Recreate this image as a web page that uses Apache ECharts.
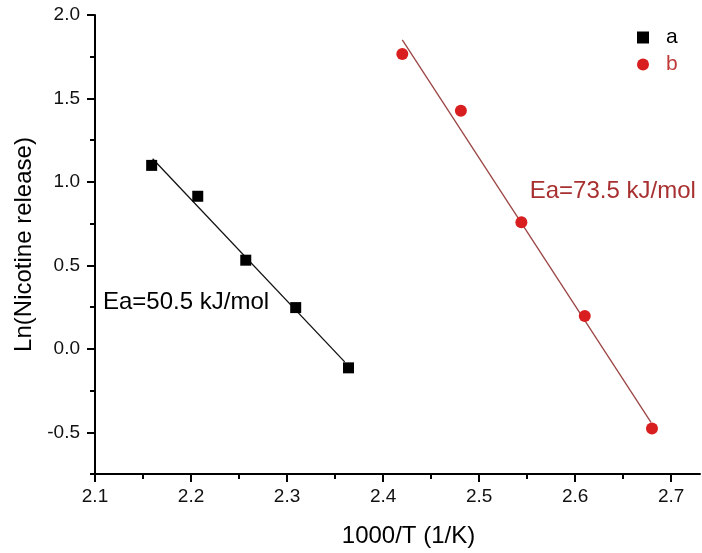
<!DOCTYPE html>
<html>
<head>
<meta charset="utf-8">
<script src="https://cdn.jsdelivr.net/npm/echarts@6/dist/echarts.min.js"></script>
<style>html,body{margin:0;padding:0;background:#fff}#c{width:702px;height:553px}</style>
</head>
<body>
<div id="c"></div>
<script>
// Data
var seriesA = [[2.159, 1.099], [2.207, 0.914], [2.257, 0.531], [2.309, 0.247], [2.364, -0.114]];
var seriesB = [[2.420, 1.767], [2.481, 1.426], [2.544, 0.759], [2.610, 0.197], [2.680, -0.477]];
var fitA = [[2.160, 1.139], [2.360, -0.078]];
var fitB = [[2.420, 1.851], [2.679, -0.441]];
var xMajorTicks = [2.1, 2.2, 2.3, 2.4, 2.5, 2.6, 2.7];
var xMinorTicks = [2.15, 2.25, 2.35, 2.45, 2.55, 2.65];
var yMajorTicks = [-0.5, 0.0, 0.5, 1.0, 1.5, 2.0];
var yMinorTicks = [-0.75, -0.25, 0.25, 0.75, 1.25, 1.75];
var annotA = [[2.1083, 0.279]];
var annotB = [[2.5527, 0.944]];
var labelA = 'Ea=50.5 kJ/mol';
var labelB = 'Ea=73.5 kJ/mol';

var FONT = '"Liberation Sans", Arial, sans-serif';
var RED = '#d81e1e';
var chart = echarts.init(document.getElementById('c'), null, {renderer: 'canvas'});
function fmt(v) { return Number(v).toFixed(1); }
var axisLineStyle = {color: '#000', width: 2};
chart.setOption({
  animation: false,
  backgroundColor: '#fff',
  grid: {left: 95, top: 15, right: 2, bottom: 78, containLabel: false},
  legend: {
    orient: 'vertical', left: 632, top: 22, itemWidth: 12, itemHeight: 12, itemGap: 6,
    textStyle: {fontFamily: FONT, fontSize: 21, padding: [0, 0, 0, 12]},
    data: [
      {name: 'a', icon: 'rect', textStyle: {color: '#000'}},
      {name: 'b', icon: 'circle', textStyle: {color: '#c03a3a'}}
    ]
  },
  xAxis: [{
    type: 'value', min: 2.1, max: 2.73, position: 'bottom',
    name: '1000/T (1/K)', nameLocation: 'middle', nameGap: 50,
    nameTextStyle: {fontFamily: FONT, fontSize: 24, color: '#000', padding: [0, 0, 0, 22]},
    axisLine: {show: true, onZero: false, lineStyle: axisLineStyle},
    axisTick: {show: true, inside: false, length: 8, customValues: xMajorTicks, lineStyle: {color: '#000', width: 2}},
    axisLabel: {show: true, customValues: xMajorTicks, formatter: fmt, margin: 13, fontFamily: FONT, fontSize: 19, color: '#111'},
    splitLine: {show: false}
  }, {
    type: 'value', min: 2.1, max: 2.73, position: 'bottom',
    axisLine: {show: false, onZero: false},
    axisTick: {show: true, inside: false, length: 5, customValues: xMinorTicks, lineStyle: {color: '#000', width: 2}},
    axisLabel: {show: false},
    splitLine: {show: false}
  }],
  yAxis: [{
    type: 'value', min: -0.75, max: 2.0, position: 'left',
    name: 'Ln(Nicotine release)', nameLocation: 'middle', nameGap: 55,
    nameTextStyle: {fontFamily: FONT, fontSize: 24, color: '#000'},
    axisLine: {show: true, onZero: false, lineStyle: axisLineStyle},
    axisTick: {show: true, inside: false, length: 8, customValues: yMajorTicks, lineStyle: {color: '#000', width: 2}},
    axisLabel: {show: true, customValues: yMajorTicks, formatter: fmt, margin: 15, fontFamily: FONT, fontSize: 19, color: '#111'},
    splitLine: {show: false}
  }, {
    type: 'value', min: -0.75, max: 2.0, position: 'left',
    axisLine: {show: false, onZero: false},
    axisTick: {show: true, inside: false, length: 5, customValues: yMinorTicks, lineStyle: {color: '#000', width: 2}},
    axisLabel: {show: false},
    splitLine: {show: false}
  }],
  series: [
    {type: 'line', data: fitA, symbol: 'none', lineStyle: {color: '#111', width: 1.3}, z: 2, silent: true},
    {type: 'line', data: fitB, symbol: 'none', lineStyle: {color: '#9a4444', width: 1.3}, z: 2, silent: true},
    {name: 'a', type: 'scatter', data: seriesA, symbol: 'rect', symbolSize: 11, itemStyle: {color: '#000', opacity: 1}, z: 3},
    {name: 'b', type: 'scatter', data: seriesB, symbol: 'circle', symbolSize: 12, itemStyle: {color: RED, opacity: 1}, z: 3},
    {type: 'scatter', data: annotA, symbolSize: 0, silent: true, itemStyle: {opacity: 1},
     label: {show: true, position: 'right', distance: 0, formatter: labelA, fontFamily: FONT, fontSize: 24, color: '#000'}},
    {type: 'scatter', data: annotB, symbolSize: 0, silent: true, itemStyle: {opacity: 1},
     label: {show: true, position: 'right', distance: 0, formatter: labelB, fontFamily: FONT, fontSize: 24, color: '#a83030'}}
  ]
});
</script>
</body>
</html>
